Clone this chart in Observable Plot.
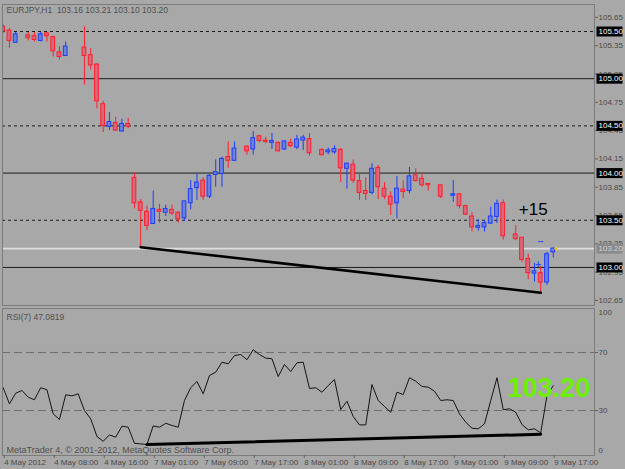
<!DOCTYPE html>
<html><head><meta charset="utf-8">
<script src="https://cdn.jsdelivr.net/npm/d3@7"></script>
<script src="https://cdn.jsdelivr.net/npm/@observablehq/plot@0.6"></script>
<style>
html,body{margin:0;padding:0;background:#a8a8a8;}
#wrap{position:relative;width:625px;height:469px;overflow:hidden;background:#a8a8a8;}
#main{position:absolute;left:0;top:0;}
#rsi{position:absolute;left:0;top:306px;}
</style></head><body><div id="wrap"><div id="main"></div><div id="rsi"></div></div>
<script>
const header = "EURJPY,H1  103.16 103.21 103.10 103.20";
const rsiTitle = "RSI(7) 47.0819";
const copyright = "MetaTrader 4, © 2001-2012, MetaQuotes Software Corp.";

// hourly candles, index 0..88 (null = bar not visible)
const opens  = [105.55,105.51,105.38,null,105.46,105.45,105.40,105.48,105.44,105.28,105.24,null,null,105.33,105.25,105.15,104.73,104.49,104.53,104.44,104.52,103.95,103.69,103.59,103.46,103.61,103.58,103.61,103.58,103.52,103.68,103.84,103.92,103.75,103.98,103.99,104.17,104.13,null,104.28,104.25,104.39,104.345,104.32,104.32,104.25,104.32,104.27,104.345,104.36,null,104.245,104.22,104.22,104.245,104.045,104.09,103.915,103.81,103.79,104.055,103.835,103.75,103.68,103.825,103.81,103.975,103.94,103.885,null,103.87,null,103.76,103.775,103.65,103.54,103.42,103.425,103.465,103.535,103.68,null,103.35,103.315,103.09,102.935,102.94,102.84,103.16];
const highs  = [105.57,105.53,105.49,null,105.49,105.49,105.49,105.49,105.45,105.34,105.39,null,null,105.55,105.32,105.16,104.76,104.64,104.59,104.57,104.58,104.00,103.72,103.65,103.81,103.67,103.66,103.66,103.59,103.70,103.92,103.99,103.95,103.99,104.14,104.17,104.33,104.33,null,104.29,104.44,104.40,104.38,104.42,104.33,104.345,104.36,104.40,104.40,104.42,null,104.26,104.265,104.29,104.26,104.105,104.14,104.00,103.95,104.10,104.08,103.90,103.80,103.965,103.92,104.06,104.045,103.995,103.89,null,103.87,null,103.92,103.78,103.66,103.58,103.505,103.49,103.64,103.715,103.715,null,103.445,103.315,103.14,103.045,103.01,103.16,103.21];
const lows   = [105.48,105.32,105.38,null,105.40,105.39,105.39,105.39,105.23,105.20,105.24,null,null,104.93,105.09,104.68,104.43,104.45,104.44,104.44,104.47,103.62,103.215,103.39,103.46,103.47,103.54,103.55,103.47,103.49,103.61,103.71,103.71,103.73,103.85,103.85,104.05,104.13,null,104.19,104.19,104.32,104.31,104.25,104.23,104.24,104.27,104.25,104.24,104.18,null,104.18,104.195,104.20,103.90,103.83,103.89,103.71,103.71,103.77,103.72,103.72,103.55,103.515,103.73,103.78,103.905,103.85,103.81,null,103.73,null,103.69,103.62,103.55,103.375,103.385,103.375,103.455,103.465,103.29,null,103.285,103.055,102.87,102.845,102.732,102.81,103.10];
const closes = [105.50,105.40,105.47,null,105.43,105.41,105.47,105.45,105.29,105.23,105.34,null,null,105.24,105.14,104.76,104.50,104.54,104.45,104.52,104.49,103.68,103.60,103.44,103.62,103.59,103.62,103.57,103.51,103.70,103.83,103.90,103.75,103.97,104.01,104.15,104.13,104.26,null,104.23,104.37,104.34,104.33,104.34,104.23,104.335,104.285,104.355,104.375,104.21,null,104.19,104.24,104.255,104.05,104.10,103.92,103.79,103.78,104.045,103.85,103.75,103.665,103.835,103.80,103.965,103.915,103.87,103.87,null,103.75,null,103.775,103.65,103.56,103.425,103.44,103.47,103.54,103.675,103.33,null,103.30,103.08,102.94,102.96,102.84,103.14,103.20];

// RSI(7) per bar
const rsi = [45.7,34.6,41.9,43.8,39.2,37.4,45.7,44.3,27.7,23.8,40.8,40.1,41.5,30.0,24.3,12.1,8.8,13.2,11.6,19.2,18.5,7.4,7.0,6.6,19.4,18.5,21.2,19.7,18.5,36.9,45.7,50.0,41.5,54.1,56.4,63.3,62.2,67.9,68.6,65.0,71.9,68.6,66.1,65.7,53.4,61.7,56.9,62.9,63.3,45.2,45.7,42.6,47.2,51.4,30.7,36.4,25.9,20.1,20.1,47.9,36.9,32.8,28.8,42.6,41.0,52.6,50.2,46.6,46.1,43.3,36.9,37.4,36.9,27.7,21.9,17.8,17.4,20.8,36.9,52.6,30.5,31.2,28.8,20.3,16.7,17.4,14.6,40.3,47.08];

// time axis
const timeTickIdx = [0,8,16,24,32,40,48,56,64,72,80,88];
const timeLabels = ["4 May 2012","4 May 08:00","4 May 16:00","7 May 01:00","7 May 09:00","7 May 17:00","8 May 01:00","8 May 09:00","8 May 17:00","9 May 01:00","9 May 09:00","9 May 17:00"];

// price axis + horizontal lines
const priceTicks = [105.65,105.35,105.05,104.75,104.45,104.15,103.85,103.55,103.25,102.95,102.65];
const dashedLevels = [105.5,104.5,103.5];
const solidLevels = [105.0,104.0,103.0];
const bidLevel = 103.20;
const rsiLevels = [70,30];

// drawn objects
const priceTrendBars = [22,86];           // trendline through the lows of these bars
const rsiTrend = [{i:23,v:6.5},{i:86,v:13.6}];
const noteText = [{i:84.8,p:103.61,t:"+15"}];
const blueMarks = [{i:86,p:103.275,t:"−"},{i:85.6,p:103.03,t:"+"}];
const bigLabel = [{i:87.3,v:45.5}];

const bars = opens.map((o,i)=> o==null ? null : {i, o, h:highs[i], l:lows[i], c:closes[i]}).filter(Boolean);
const trendPts = priceTrendBars.map(i=>({i, p:lows[i]}));
const lastClose = closes[closes.length-1];

const xDomain = [-0.11, 94.6];
const font = "Liberation Sans, Arial, sans-serif";
const axisColor = "#484848";
const bullStroke = "#1e3cff", bullFill = "#6c82d6";
const bearStroke = "#ff1e2e", bearFill = "#d8687a";
const up = d => d.c >= d.o;

const labelBox = {draw(ctx){ ctx.moveTo(2,-5); ctx.lineTo(28,-5); ctx.lineTo(28,5); ctx.lineTo(2,5); ctx.closePath(); }};

const main = Plot.plot({
  width: 625, height: 306,
  marginLeft: 2, marginRight: 31, marginTop: 4, marginBottom: 1,
  x: {domain: xDomain, axis: null},
  y: {domain: [102.597, 105.786], axis: null},
  style: {fontFamily: font, fontSize: "8px", background: "transparent"},
  marks: [
    Plot.ruleY(solidLevels, {stroke: "#1c1c1c", strokeWidth: 1}),
    Plot.ruleY(dashedLevels, {stroke: "#1c1c1c", strokeWidth: 1, strokeDasharray: "3,3"}),
    Plot.ruleY([bidLevel], {stroke: "#dedede", strokeWidth: 1.6}),
    Plot.ruleX(bars, {x: "i", y1: "l", y2: "h", stroke: d => up(d) ? bullStroke : bearStroke, strokeWidth: 1, clip: true}),
    Plot.rect(bars, {x1: d => d.i - 0.3, x2: d => d.i + 0.3, y1: "o", y2: "c",
      fill: d => up(d) ? bullFill : bearFill, stroke: d => up(d) ? bullStroke : bearStroke, strokeWidth: 1, clip: true}),
    Plot.line(trendPts, {x: "i", y: "p", stroke: "#000", strokeWidth: 2.6}),
    Plot.text(noteText, {x: "i", y: "p", text: "t", fontSize: 17, fill: "#000"}),
    Plot.text(blueMarks, {x: "i", y: "p", text: "t", fontSize: 10, fontWeight: "bold", fill: "#2a4cff"}),
    Plot.dot([bidLevel], {x: () => 88.45, y: d => d, r: 1.8, fill: "#f0c020"}),
    Plot.frame({stroke: "#7c7c7c"}),
    Plot.text([header], {frameAnchor: "top-left", dx: 4, dy: 2, lineAnchor: "top", fill: "#505050", fontSize: 8.5}),
    Plot.axisY({anchor: "right", label: null, ticks: priceTicks, tickFormat: d => d.toFixed(2), tickSize: 3, tickPadding: 1, fill: axisColor, stroke: "#606060", fontSize: 8}),
    Plot.dot([...solidLevels, ...dashedLevels], {y: d => d, frameAnchor: "right", symbol: labelBox, r: 5, fill: "#000", stroke: null}),
    Plot.text([...solidLevels, ...dashedLevels], {y: d => d, frameAnchor: "right", dx: 4, textAnchor: "start", text: d => d.toFixed(2), fill: "#fff", fontSize: 8}),
    Plot.dot([bidLevel], {y: d => d, frameAnchor: "right", symbol: labelBox, r: 5, fill: "#8a8a8a", stroke: null}),
    Plot.text([bidLevel], {y: d => d, frameAnchor: "right", dx: 4, textAnchor: "start", text: d => d.toFixed(2), fill: "#cfcfcf", fontSize: 8})
  ]
});
document.getElementById("main").appendChild(main);

const rsiPlot = Plot.plot({
  width: 625, height: 163,
  marginLeft: 2, marginRight: 31, marginTop: 2, marginBottom: 14,
  x: {domain: xDomain, axis: null},
  y: {domain: [-1, 100.3], axis: null},
  style: {fontFamily: font, fontSize: "8px", background: "transparent"},
  marks: [
    Plot.ruleY(rsiLevels, {stroke: "#6e6e6e", strokeWidth: 1, strokeDasharray: "8,4"}),
    Plot.line(rsi.map((v,i)=>({i,v})), {x: "i", y: "v", stroke: "#141414", strokeWidth: 1}),
    Plot.line(rsiTrend, {x: "i", y: "v", stroke: "#000", strokeWidth: 3}),
    Plot.text(bigLabel, {x: "i", y: "v", text: () => lastClose.toFixed(2), fontSize: 27, fontWeight: "bold", fill: "#6cf000"}),
    Plot.frame({stroke: "#7c7c7c"}),
    Plot.text([rsiTitle], {frameAnchor: "top-left", dx: 4, dy: 5, lineAnchor: "top", fill: "#505050", fontSize: 8.5}),
    Plot.text([copyright], {frameAnchor: "bottom-left", dx: 4, dy: -3, lineAnchor: "bottom", fill: "#505050", fontSize: 9}),
    Plot.axisY({anchor: "right", label: null, ticks: rsiLevels, tickSize: 3, tickPadding: 1, fill: axisColor, stroke: "#606060", fontSize: 8}),
    Plot.text([100], {y: d => d, frameAnchor: "right", dx: 4, dy: 4, textAnchor: "start", text: String, fill: axisColor, fontSize: 8}),
    Plot.text([0], {y: d => d, frameAnchor: "right", dx: 4, dy: -4, textAnchor: "start", text: String, fill: axisColor, fontSize: 8}),
    Plot.axisX({anchor: "bottom", label: null, ticks: timeTickIdx, tickFormat: d => timeLabels[timeTickIdx.indexOf(d)], tickSize: 3, tickPadding: 1, textAnchor: "start", dx: 1, fill: axisColor, stroke: "#606060", fontSize: 8})
  ]
});
document.getElementById("rsi").appendChild(rsiPlot);
</script></body></html>
